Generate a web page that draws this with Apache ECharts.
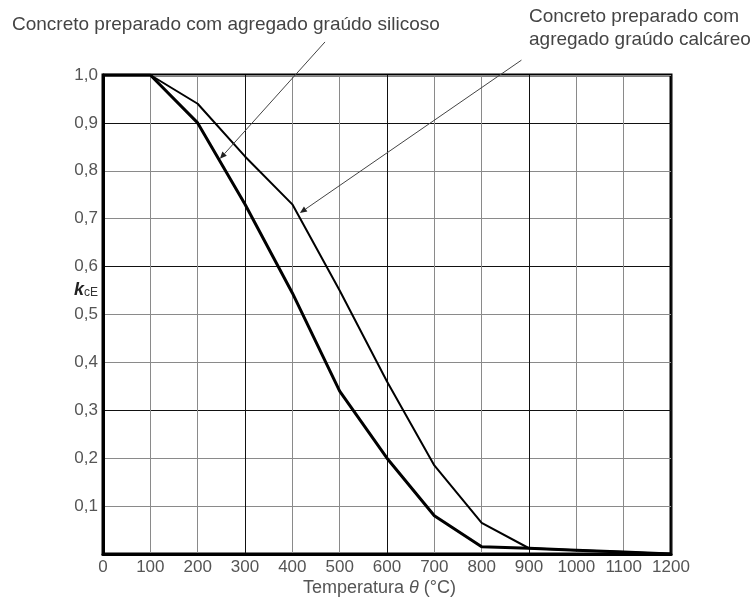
<!DOCTYPE html>
<html>
<head>
<meta charset="utf-8">
<script src="https://cdn.jsdelivr.net/npm/echarts@6/dist/echarts.min.js"></script>
<style>
html,body{margin:0;padding:0;background:#fff;}
#c{width:752px;height:603px;}
</style>
</head>
<body>
<div id="c"></div>
<script>
// Data
var temperatures = [0, 100, 200, 300, 400, 500, 600, 700, 800, 900, 1000, 1100, 1200];
var siliceous   = [1.0, 1.0, 0.90, 0.73, 0.545, 0.34, 0.20, 0.08, 0.015, 0.012, 0.008, 0.004, 0.0];
var calcareous  = [1.0, 1.0, 0.94, 0.83, 0.73, 0.55, 0.36, 0.185, 0.065, 0.012, 0.008, 0.004, 0.0];
var xTicks = [0, 100, 200, 300, 400, 500, 600, 700, 800, 900, 1000, 1100, 1200];
var yTicks = [0, 0.1, 0.2, 0.3, 0.4, 0.5, 0.6, 0.7, 0.8, 0.9, 1.0];
var annSiliceousText = 'Concreto preparado com agregado graúdo silicoso';
var annCalcareousText = 'Concreto preparado com\nagregado graúdo calcáreo';
// arrow tips in data coordinates (temperature, k)
var annSiliceousTip = [247, 0.825];
var annCalcareousTip = [416, 0.712];
var annSiliceousStart = [469, 1.069];
var annCalcareousStart = [884, 1.031];

var chart = echarts.init(document.getElementById('c'));
var font = '"Liberation Sans", Arial, sans-serif';

function pairs(ys){ return temperatures.map(function(t,i){ return [t, ys[i]]; }); }

chart.setOption({
  animation: false,
  backgroundColor: '#fff',
  grid: {left: 103, right: 81, top: 75, bottom: 49, show: true, borderColor: '#000', borderWidth: 3, backgroundColor: 'transparent'},
  xAxis: {
    type: 'value', min: 0, max: 1200, interval: 100,
    axisLine: {show: true, lineStyle: {color: '#000', width: 3}},
    axisTick: {show: false},
    axisLabel: {color: '#555', fontFamily: font, fontSize: 17, margin: 5,
      formatter: function(v){ return String(v); }},
    splitLine: {show: true, lineStyle: {color: ['#111', '#8a8a8a', '#8a8a8a'], width: 1}}
  },
  yAxis: {
    type: 'value', min: 0, max: 1, interval: 0.1,
    axisLine: {show: true, lineStyle: {color: '#000', width: 3}},
    axisTick: {show: false},
    axisLabel: {color: '#555', fontFamily: font, fontSize: 17, margin: 5,
      formatter: function(v){ return v === 0 ? '' : v.toFixed(1).replace('.', ','); }},
    splitLine: {show: true, lineStyle: {color: ['#111', '#8a8a8a', '#8a8a8a'], width: 1}}
  },
  series: [
    {type: 'line', data: pairs(siliceous), symbol: 'none', lineStyle: {color: '#000', width: 3}},
    {type: 'line', data: pairs(calcareous), symbol: 'none', lineStyle: {color: '#000', width: 2}}
  ]
});

function px(p){ return chart.convertToPixel({gridIndex: 0}, p); }
function arrow(start, tip){
  var s = px(start), t = px(tip);
  var ang = Math.atan2(t[1]-s[1], t[0]-s[0]);
  var L = 7, W = 3;
  var bx = t[0] - L*Math.cos(ang), by = t[1] - L*Math.sin(ang);
  var nx = -Math.sin(ang)*W, ny = Math.cos(ang)*W;
  return [
    {type: 'line', shape: {x1: s[0], y1: s[1], x2: bx, y2: by}, style: {stroke: '#444', lineWidth: 1}, z: 100},
    {type: 'polygon', shape: {points: [[t[0], t[1]], [bx+nx, by+ny], [bx-nx, by-ny]]}, style: {fill: '#222'}, z: 100}
  ];
}
var g = [];
g = g.concat(arrow(annSiliceousStart, annSiliceousTip));
g = g.concat(arrow(annCalcareousStart, annCalcareousTip));
g.push({type: 'text', left: 12, top: 15, style: {text: annSiliceousText, font: '19px ' + font, fill: '#444'}, z: 100});
g.push({type: 'text', left: 529, top: 5, style: {text: annCalcareousText, font: '19px ' + font, fill: '#444', lineHeight: 23}, z: 100});
g.push({type: 'text', left: 74, top: 281, style: {rich: {k: {font: 'italic bold 18px ' + font, fill: '#222'}, s: {font: '12px ' + font, fill: '#333', padding: [5,0,0,0]}}, text: '{k|k}{s|cE}'}, z: 100});
g.push({type: 'text', left: 303, top: 579, style: {rich: {n: {font: '18px ' + font, fill: '#555'}, t: {font: 'italic 18px ' + font, fill: '#555'}}, text: '{n|Temperatura }{t|θ}{n| (°C)}'}, z: 100});
chart.setOption({graphic: g});
</script>
</body>
</html>
